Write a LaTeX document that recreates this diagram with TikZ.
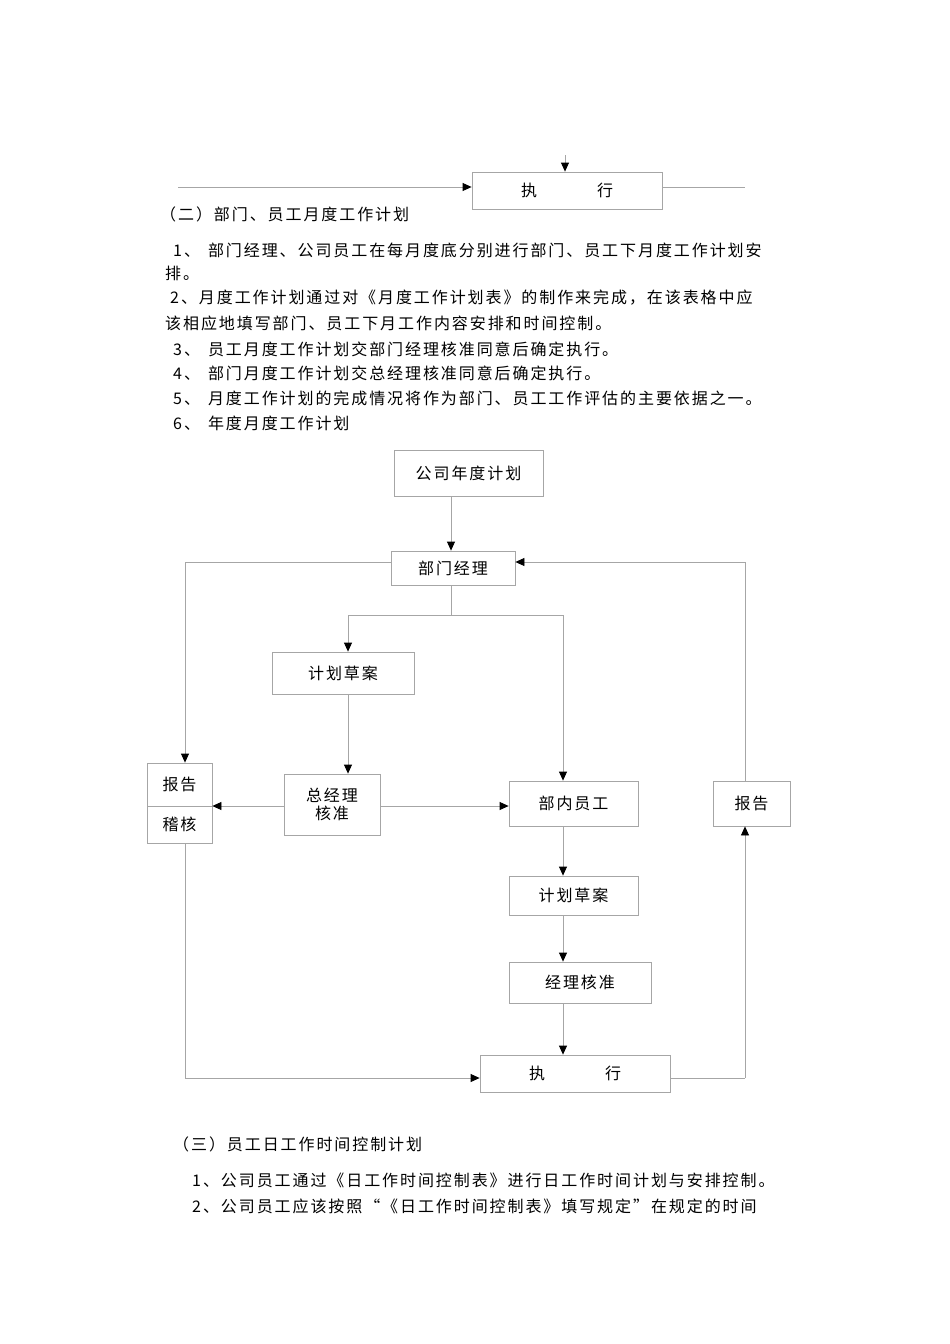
\documentclass[tikz,border=0pt]{standalone}
\usepackage{fontspec}
\newfontfamily\cjk[LetterSpace=12]{Noto Sans CJK SC}
\usetikzlibrary{arrows.meta}
\begin{document}
\begin{tikzpicture}[x=1pt,y=-1pt,
  box/.style={draw=gray!70,line width=0.8pt,font=\cjk\fontsize{16}{18}\selectfont,inner sep=0pt},
  ln/.style={draw=gray!70,line width=0.8pt},
  arr/.style={ln,-{Triangle[length=9pt,width=8pt,fill=black,color=black]}},
  txt/.style={anchor=west,font=\cjk\fontsize{16}{18}\selectfont,inner sep=0pt}]
\useasboundingbox (0,0) rectangle (950,1344);
% top fragment
\node[box,minimum width=190pt,minimum height=37pt] (ex1) at (567,190.5) {执\hspace{60pt}行};
\coordinate (t0) at (565,155);
\coordinate (l0) at (178,187);
\coordinate (r0) at (745,187);
\draw[arr] (t0) -- (ex1.north -| t0);
\draw[arr] (l0) -- (l0 -| ex1.west);
\draw[ln] (ex1.east |- r0) -- (r0);
% texts
\node[txt] (h2) at (160,214) {（二）部门、员工月度工作计划};
\node[txt] (p1) at (173,250) {1、\hspace{8pt}部门经理、公司员工在每月度底分别进行部门、员工下月度工作计划安};
\node[txt] (p1b) at (165,273) {排。};
\node[txt] (p2) at (170,298) {2、月度工作计划通过对《月度工作计划表》的制作来完成，在该表格中应};
\node[txt] (p2b) at (165,323) {该相应地填写部门、员工下月工作内容安排和时间控制。};
\node[txt] (p3) at (173,349) {3、\hspace{8pt}员工月度工作计划交部门经理核准同意后确定执行。};
\node[txt] (p4) at (173,373) {4、\hspace{8pt}部门月度工作计划交总经理核准同意后确定执行。};
\node[txt] (p5) at (173,398) {5、\hspace{8pt}月度工作计划的完成情况将作为部门、员工工作评估的主要依据之一。};
\node[txt] (p6) at (173,423) {6、\hspace{8pt}年度月度工作计划};
% flowchart
\node[box,minimum width=149pt,minimum height=46pt] (gs) at (468.5,473) {公司年度计划};
\node[box,minimum width=124pt,minimum height=34pt] (bm) at (453,568) {部门经理};
\node[box,minimum width=142pt,minimum height=42pt] (jh1) at (343,673) {计划草案};
\node[box,minimum width=96pt,minimum height=61pt,align=center] (zj) at (332,804.5) {总经理\\核准};
\node[box,minimum width=65pt,minimum height=43pt] (bg1) at (179.5,784.5) {报告};
\node[box,minimum width=65pt,minimum height=37pt] (jh) at (179.5,824.5) {稽核};
\node[box,minimum width=129pt,minimum height=45pt] (bn) at (573.5,803.5) {部内员工};
\node[box,minimum width=77pt,minimum height=45pt] (bg2) at (751.5,803.5) {报告};
\node[box,minimum width=129pt,minimum height=39pt] (jh2) at (573.5,895.5) {计划草案};
\node[box,minimum width=142pt,minimum height=41pt] (jl) at (580,982.5) {经理核准};
\node[box,minimum width=190pt,minimum height=37pt] (ex2) at (575,1073.5) {执\hspace{60pt}行};
\coordinate (xg) at (451,0);
\coordinate (xl) at (185,562);
\coordinate (xr) at (745,562);
\coordinate (sp) at (451,615);
\coordinate (c1) at (348,615);
\coordinate (c2) at (563,615);
\coordinate (yb) at (0,1078);
\coordinate (yz) at (0,806);
\draw[arr] (gs.south -| xg) -- (bm.north -| xg);
\draw[ln] (bm.west |- xl) -- (xl);
\draw[arr] (xl) -- (bg1.north -| xl);
\draw[ln] (bm.south -| sp) -- (sp);
\draw[ln] (c1) -- (c2);
\draw[arr] (c1) -- (jh1.north -| c1);
\draw[arr] (c2) -- (bn.north -| c2);
\draw[arr] (jh1.south -| c1) -- (zj.north -| c1);
\draw[arr] (zj.west |- yz) -- (bg1.east |- yz);
\draw[arr] (zj.east |- yz) -- (bn.west |- yz);
\draw[arr] (bn.south -| c2) -- (jh2.north -| c2);
\draw[arr] (jh2.south -| c2) -- (jl.north -| c2);
\draw[arr] (jl.south -| c2) -- (ex2.north -| c2);
\draw[arr] (jh.south -| xl) |- (ex2.west |- yb);
\draw[ln] (ex2.east |- yb) -- (yb -| xr);
\draw[arr] (yb -| xr) -- (bg2.south -| xr);
\draw[ln] (bg2.north -| xr) -- (xr);
\draw[arr] (xr) -- (bm.east |- xr);
% bottom texts
\node[txt] (h3) at (173,1144) {（三）员工日工作时间控制计划};
\node[txt] (q1) at (192,1180) {1、公司员工通过《日工作时间控制表》进行日工作时间计划与安排控制。};
\node[txt] (q2) at (192,1206) {2、公司员工应该按照“《日工作时间控制表》填写规定”在规定的时间};
\end{tikzpicture}
\end{document}
